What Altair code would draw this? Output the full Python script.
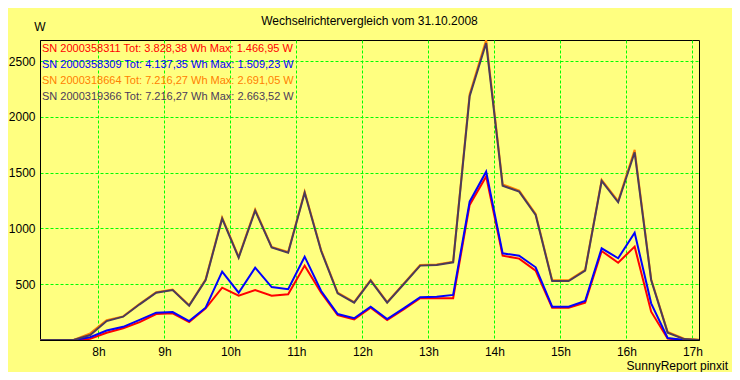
import altair as alt
import pandas as pd

# time of each 15-minute reading (decimal hours)
times = [7.125, 7.375, 7.625, 7.875, 8.125, 8.375, 8.625, 8.875, 9.125, 9.375,
         9.625, 9.875, 10.125, 10.375, 10.625, 10.875, 11.125, 11.375, 11.625, 11.875,
         12.125, 12.375, 12.625, 12.875, 13.125, 13.375, 13.625, 13.875, 14.125, 14.375,
         14.625, 14.875, 15.125, 15.375, 15.625, 15.875, 16.125, 16.375, 16.625, 16.875,
         17.125]

red_w = [0, 0, 0, 10, 65, 105, 160, 233, 239, 161,
         284, 469, 397, 448, 397, 410, 667, 424, 224, 185,
         290, 179, 275, 374, 374, 374, 1211, 1467, 756, 730,
         622, 290, 290, 335, 798, 693, 837, 254, 12, 0,
         0]
blue_w = [0, 0, 0, 25, 85, 118, 180, 245, 251, 170,
          290, 613, 424, 649, 475, 455, 747, 439, 233, 195,
          299, 188, 284, 383, 388, 404, 1240, 1509, 777, 756,
          652, 299, 299, 350, 822, 733, 962, 329, 18, 0,
          0]
orange_w = [0, 0, 0, 60, 178, 212, 325, 428, 452, 312,
            545, 1098, 745, 1170, 835, 790, 1330, 805, 425, 340,
            538, 340, 505, 672, 678, 702, 2205, 2691, 1395, 1340,
            1130, 535, 535, 628, 1435, 1245, 1705, 545, 72, 12,
            0]
dark_w = [0, 0, 0, 45, 170, 209, 320, 424, 448, 308,
          538, 1088, 738, 1160, 830, 783, 1321, 798, 419, 335,
          532, 335, 500, 667, 673, 697, 2185, 2663, 1384, 1330,
          1121, 529, 529, 622, 1426, 1235, 1683, 538, 66, 8,
          0]

serials = ["2000358311", "2000358309", "2000318664", "2000319366"]
totals = ["3.828,38", "4.137,35", "7.216,27", "7.216,27"]
maxima = ["1.466,95", "1.509,23", "2.691,05", "2.663,52"]
colors = ["#FF0000", "#0000FF", "#FF8000", "#4B3B5A"]
series = [red_w, blue_w, orange_w, dark_w]

hour_ticks = [8, 9, 10, 11, 12, 13, 14, 15, 16, 17]
w_ticks = [500, 1000, 1500, 2000, 2500]

title_text = "Wechselrichtervergleich vom 31.10.2008"
unit_text = "W"
credit_text = "SunnyReport pinxit"

FONT = "Liberation Sans"
GRID = "#00FF00"
BG = "#FFFF80"

rows = []
for sn, vals in zip(serials, series):
    for t, v in zip(times, vals):
        rows.append({"sn": sn, "t": t, "w": v})
df = pd.DataFrame(rows)

W, H = 659, 300

x_enc = alt.X("t:Q",
              scale=alt.Scale(domain=[7.115, 17.1], nice=False, zero=False),
              axis=alt.Axis(values=hour_ticks, labelExpr="datum.value + 'h'",
                            title=None, ticks=False, labelPadding=6,
                            labelFontSize=12, labelFont=FONT, labelColor="black",
                            domainColor="black", grid=True, gridColor=GRID,
                            gridDash=[3, 2], gridWidth=1, gridOpacity=1))
y_enc = alt.Y("w:Q",
              scale=alt.Scale(domain=[0, 2690], nice=False),
              axis=alt.Axis(values=w_ticks, format="d", title=None, ticks=False,
                            labelPadding=5,
                            labelFontSize=12, labelFont=FONT, labelColor="black",
                            domainColor="black", grid=True, gridColor=GRID,
                            gridDash=[3, 2], gridWidth=1, gridOpacity=1))

layers = []
for i, (sn, col) in enumerate(zip(serials, colors)):
    enc = dict(x=x_enc, y=y_enc) if i == 0 else dict(x="t:Q", y="w:Q")
    layers.append(
        alt.Chart(df).transform_filter(alt.datum.sn == sn)
        .mark_line(color=col, strokeWidth=2, clip=True)
        .encode(**enc)
    )

for i, (sn, tot, mx, col) in enumerate(zip(serials, totals, maxima, colors)):
    label = f"SN {sn} Tot: {tot} Wh Max: {mx} W"
    layers.append(
        alt.Chart(pd.DataFrame({"label": [label]}))
        .mark_text(align="left", baseline="middle", fontSize=11, font=FONT, color=col)
        .encode(x=alt.value(2), y=alt.value(9 + 16 * i), text="label:N")
    )

layers.append(
    alt.Chart(pd.DataFrame({"label": [title_text]}))
    .mark_text(align="center", baseline="middle", fontSize=12, font=FONT, color="black")
    .encode(x=alt.value(W / 2), y=alt.value(-19), text="label:N")
)
layers.append(
    alt.Chart(pd.DataFrame({"label": [unit_text]}))
    .mark_text(align="center", baseline="middle", fontSize=12, font=FONT, color="black")
    .encode(x=alt.value(0), y=alt.value(-13), text="label:N")
)
layers.append(
    alt.Chart(pd.DataFrame({"label": [credit_text]}))
    .mark_text(align="right", baseline="middle", fontSize=12, font=FONT, color="black")
    .encode(x=alt.value(W + 29), y=alt.value(H + 26), text="label:N")
)

chart = (
    alt.layer(*layers)
    .properties(width=W, height=H,
                autosize=alt.AutoSizeParams(type="none"),
                padding={"left": 32, "top": 32, "right": 33, "bottom": 32},
                background=BG)
    .configure_view(fill=BG, stroke="black", strokeWidth=1)
)

chart.save("out.html", embed_options={"renderer": "svg", "actions": False})
